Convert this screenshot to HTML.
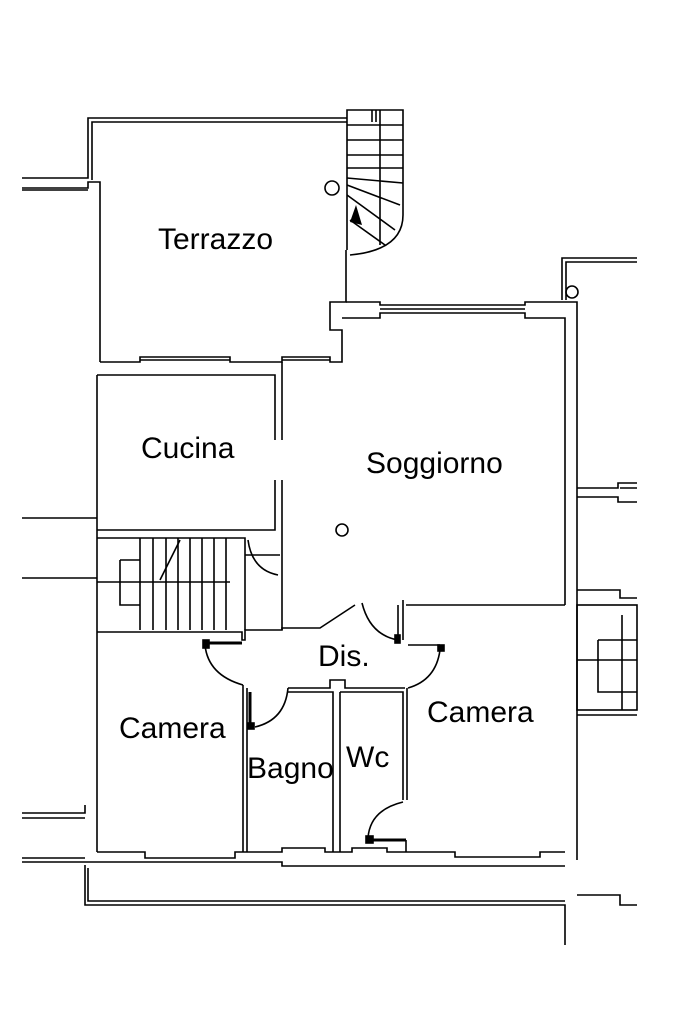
<!DOCTYPE html>
<html><head><style>
html,body{margin:0;padding:0;background:#fff}
svg{display:block}
text{font-family:"Liberation Sans",sans-serif;font-size:30px;fill:#000}
</style></head><body>
<svg width="683" height="1024" viewBox="0 0 683 1024" xmlns="http://www.w3.org/2000/svg">
<g fill="none" stroke="#000" stroke-width="1.6">
<polyline points="347,118 88,118 88,178 22,178"/>
<polyline points="347,122 92,122 92,180"/>
<polyline points="22,188 88,188 88,182 100,182 100,362"/>
<polyline points="22,190 88,190"/>
<polyline points="100,362 140,362 140,357 230,357 230,362 282,362 282,357 330,357 330,362 342,362 342,330 330,330 330,302 346,302 346,250"/>
<polyline points="140,360 230,360"/><polyline points="282,360 330,360"/>
<polyline points="347,250 347,110 403,110 403,215"/>
<path d="M403,215 Q403,250 350,255"/>
<line x1="380" y1="110" x2="380" y2="245"/>
<line x1="347" y1="125" x2="403" y2="125"/>
<line x1="347" y1="140" x2="403" y2="140"/>
<line x1="347" y1="155" x2="403" y2="155"/>
<line x1="347" y1="168" x2="403" y2="168"/>
<line x1="347" y1="178" x2="403" y2="183"/>
<line x1="347" y1="185" x2="400" y2="205"/>
<line x1="347" y1="195" x2="395" y2="230"/>
<line x1="350" y1="220" x2="385" y2="245"/>
<line x1="372" y1="110" x2="372" y2="122"/><line x1="376" y1="110" x2="376" y2="122"/>
<circle cx="332" cy="188" r="7"/>
<polyline points="342,318 380,318 380,313 525,313 525,318 565,318 565,605"/>
<polyline points="346,302 380,302 380,305 525,305 525,302 577,302 577,488"/>
<polyline points="380,309 525,309"/>
<polyline points="562,300 562,258 637,258"/><polyline points="566,300 566,262 637,262"/>
<circle cx="572" cy="292" r="6"/>
<polyline points="577,488 618,488 618,483 637,483"/><polyline points="620,488 637,488"/>
<polyline points="577,488 577,860"/>
<polyline points="577,497 618,497 618,502 637,502"/>
<polyline points="577,590 620,590 620,598 637,598"/>
<rect x="577" y="605" width="60" height="105"/>
<polyline points="598,640 598,692 637,692"/><line x1="598" y1="640" x2="637" y2="640"/>
<line x1="622" y1="615" x2="622" y2="710"/><line x1="577" y1="660" x2="637" y2="660"/>
<polyline points="577,715 637,715"/>
<polyline points="577,895 620,895 620,905 637,905"/>
<circle cx="342" cy="530" r="6"/>
<polyline points="97,375 275,375 275,440"/><polyline points="282,362 282,440"/>
<polyline points="275,480 275,530 97,530"/><polyline points="282,480 282,630"/>
<line x1="97" y1="375" x2="97" y2="852"/>
<polyline points="97,538 245,538 245,630"/>
<line x1="140" y1="538" x2="140" y2="630"/><line x1="153" y1="538" x2="153" y2="630"/>
<line x1="166" y1="538" x2="166" y2="630"/><line x1="178" y1="538" x2="178" y2="630"/>
<line x1="190" y1="538" x2="190" y2="630"/><line x1="202" y1="538" x2="202" y2="630"/>
<line x1="214" y1="538" x2="214" y2="630"/><line x1="226" y1="538" x2="226" y2="630"/>
<polyline points="120,560 120,605 140,605"/><line x1="120" y1="560" x2="140" y2="560"/>
<line x1="97" y1="582" x2="230" y2="582"/>
<line x1="160" y1="580" x2="180" y2="540"/>
<polyline points="245,555 280,555"/><path d="M248,540 Q252,570 278,575"/>
<polyline points="97,632 242,632 242,640 245,640 245,630 282,630 282,628 320,628 355,605"/>
<path d="M362,603 Q370,635 398,640"/>
<polyline points="398,605 398,640"/><polyline points="403,600 403,640"/>
<polyline points="406,605 565,605"/>
<polyline points="408,645 440,645"/>
<path d="M440,650 Q436,680 408,688"/>
<rect x="395" y="635" width="5" height="8" fill="#000"/>
<rect x="438" y="645" width="6" height="6" fill="#000"/>
<path d="M205,645 Q208,675 243,685"/>
<rect x="203" y="640" width="6" height="8" fill="#000"/>
<line x1="208" y1="643" x2="242" y2="643" stroke-width="3"/>
<polyline points="243,685 243,852"/>
<polyline points="247,688 247,852"/>
<line x1="250" y1="692" x2="250" y2="725" stroke-width="3"/>
<rect x="248" y="723" width="6" height="6" fill="#000"/>
<path d="M255,727 Q285,720 288,688"/>
<polyline points="288,688 330,688 330,680 345,680 345,688 405,688"/>
<polyline points="288,692 333,692 333,852"/><polyline points="340,692 340,852"/>
<polyline points="340,692 403,692 403,800"/><polyline points="407,688 407,800"/>
<path d="M403,802 Q370,810 368,838"/>
<rect x="366" y="836" width="7" height="7" fill="#000"/>
<line x1="372" y1="840" x2="406" y2="840" stroke-width="3"/>
<polyline points="406,840 406,852"/>
<polyline points="97,852 145,852 145,858 235,858 235,852 282,852 282,848 325,848 325,852 352,852 352,848 387,848 387,852 455,852 455,857 540,857 540,852 565,852"/>
<polyline points="85,862 145,862 235,862 282,862 282,866 325,866 352,866 387,866 455,866 540,866 565,866"/>
<polyline points="85,865 85,905 565,905 565,945"/>
<polyline points="88,868 88,901 565,901"/>
<polyline points="22,813 85,813 85,805"/><polyline points="22,818 85,818"/>
<polyline points="22,858 85,858"/><polyline points="22,862 85,862"/>
<polyline points="22,518 97,518"/><polyline points="22,578 97,578"/>
</g>
<path d="M350,222 L356,205 L362,225 Z" fill="#000"/>
<text x="158" y="249">Terrazzo</text>
<text x="141" y="458">Cucina</text>
<text x="366" y="473">Soggiorno</text>
<text x="318" y="666">Dis.</text>
<text x="119" y="738">Camera</text>
<text x="247" y="778">Bagno</text>
<text x="346" y="767">Wc</text>
<text x="427" y="722">Camera</text>
</svg>
</body></html>
